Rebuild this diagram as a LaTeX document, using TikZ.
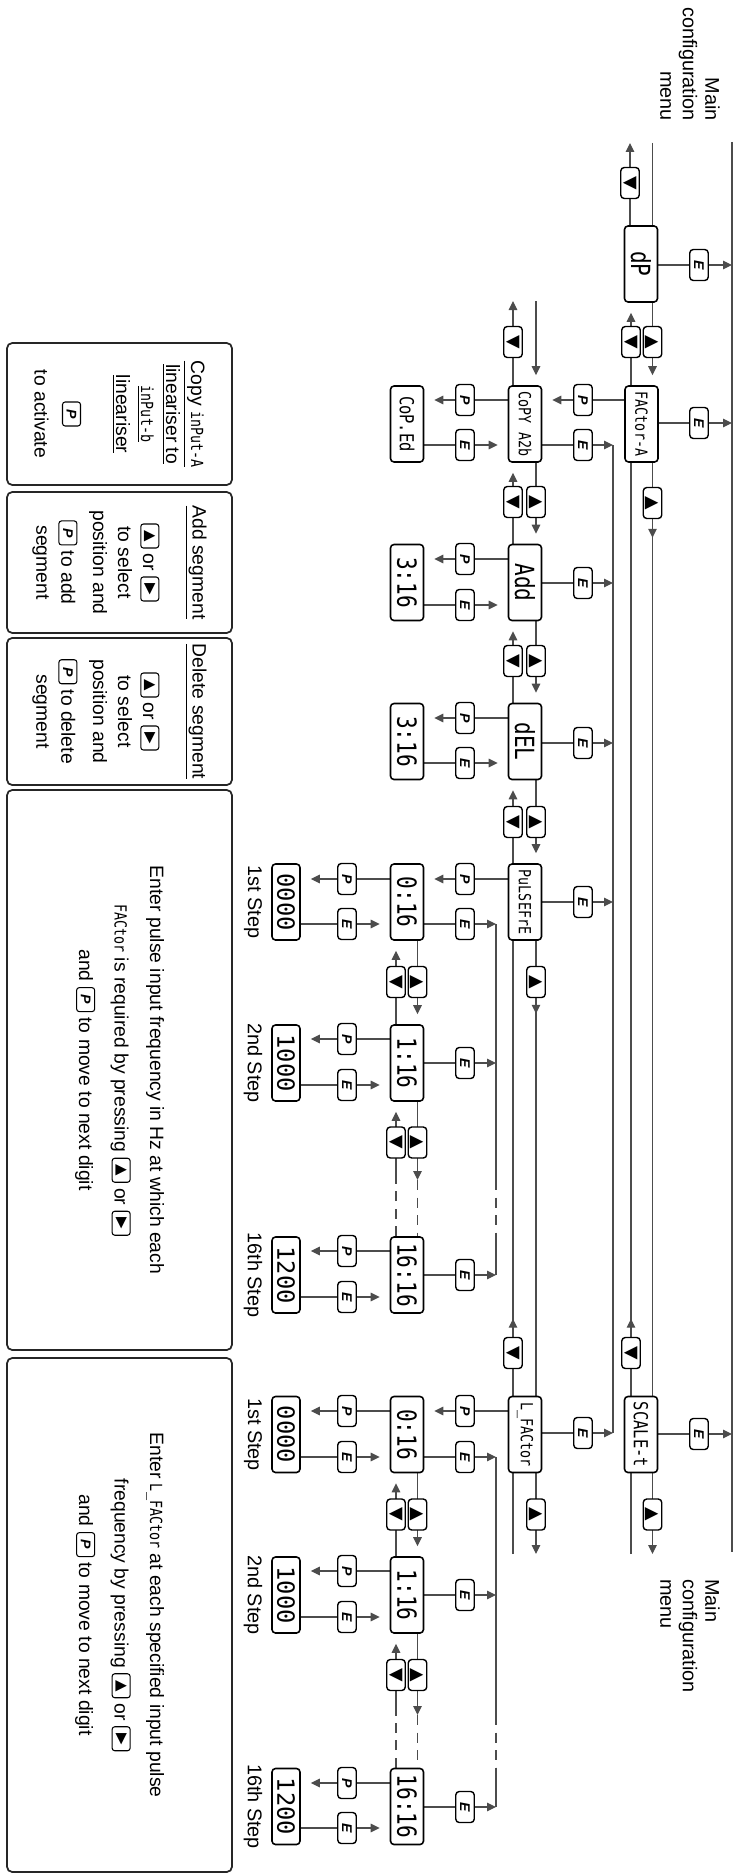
\documentclass[tikz,border=0pt]{standalone}
\usepackage{fontspec}
\setmainfont{Liberation Sans}
\newfontfamily\lcd[FakeStretch=0.8]{DejaVu Sans Mono}
\newfontfamily\lcdwide{DejaVu Sans Mono}
\newfontfamily\dejavu{DejaVu Sans}
\usetikzlibrary{arrows.meta,decorations.markings}
\pgfdeclarelayer{bg}
\pgfsetlayers{bg,main}

\newcommand{\lcdtxt}[1]{{\lcd\fontsize{9.5}{10}\selectfont #1}}
\newcommand{\keyP}{{\fontsize{8}{8}\selectfont\bfseries\itshape P}}
\newcommand{\keyUp}{{\dejavu\fontsize{8.5}{8.5}\selectfont ▲}}
\newcommand{\keyRt}{{\dejavu\fontsize{8.5}{8.5}\selectfont ▶}}
\newcommand{\inkey}[1]{\tikz[baseline=-0.65ex]\node[draw, rounded corners=1.5pt, line width=0.6pt, minimum width=4.8mm, minimum height=3.6mm, inner sep=0pt] (ik) {#1};}

\begin{document}
\begin{tikzpicture}[
    x=0.2mm, y=-0.2mm,
    menu/.style={draw, fill=white, rotate=-90, rounded corners=2pt, line width=0.9pt,
        minimum width=15.2mm, minimum height=6.6mm, inner sep=0pt},
    menus/.style={menu, font=\lcd\fontsize{9.5}{10}\selectfont},
    menum/.style={menu, font=\lcd\fontsize{11}{12}\selectfont},
    menul/.style={menu, font=\lcd\fontsize{15}{16}\selectfont},
    valbox/.style={menu, minimum height=5.6mm, font=\lcdwide\fontsize{13.5}{14}\selectfont},
    key/.style={draw, fill=white, rotate=-90, rounded corners=2pt, line width=0.8pt,
        minimum width=6.2mm, minimum height=3.7mm, inner sep=0pt},
    keyE/.style={key, font=\fontsize{8}{8}\selectfont\bfseries\itshape},
    keyT/.style={key, font=\dejavu\fontsize{10}{10}\selectfont},
    conn/.style={line width=0.7pt, black!70},
    arr/.style={conn, -{Triangle[length=1.8mm, width=1.7mm]}},
    arrb/.style={arr, shorten >=2mm},
    tipat/.style={conn, postaction={decorate}, decoration={markings,
        mark=at position #1 with {\arrow{Triangle[length=1.8mm, width=1.7mm]}}}},
    dashline/.style={conn, dash pattern=on 2mm off 1.5mm},
    note/.style={draw=black!85, rotate=-90, rounded corners=3pt, line width=1pt,
        minimum height=45mm, align=center, font=\fontsize{11}{14.2}\selectfont},
    lbl/.style={rotate=-90, font=\fontsize{11.3}{12.8}\selectfont}
]
\useasboundingbox (0,0) rectangle (736,1876);

% ends of the menu lines
\coordinate (busT) at (732,142);
\coordinate (busB) at (732,1552);
\coordinate (c2s) at (613,445);
\coordinate (c2e) at (613,1433);
\coordinate (c3s) at (496,924);
\coordinate (c3e) at (496,1275);
\coordinate (c4s) at (496,1457);
\coordinate (c4e) at (496,1807);
\coordinate (w1L) at (0,143);
\coordinate (w2L) at (0,301);
\coordinate (wR) at (0,1554);
\coordinate (g1) at (0,1180);
\coordinate (g2) at (0,1715);
\coordinate (stepx) at (253,0);

% first level
\node[menul] (dp) at (641,264) {dP};
\node[menus] (fa) at (641.5,424) {FACtor-A};
\node[menum] (sc) at (641,1434.5) {SCALE-t};

% second level
\node[menus] (cp) at (525,424) {CoPY A2b};
\node[menul] (add) at (525,582.5) {Add};
\node[menul] (del) at (525,741.5) {dEL};
\node[menus] (pf) at (525,902) {PuLSEFrE};
\node[menus] (lf) at (525,1434.5) {L\_FACtor};

% third level
\node[menum] (ce) at (407,424) {CoP.Ed};
\node[menul] (a3) at (407,582.5) {3:16};
\node[menul] (d3) at (407,741.5) {3:16};
\node[menul] (p0) at (407,902) {0:16};
\node[menul] (p1) at (407,1063) {1:16};
\node[menul] (p16) at (407,1275) {16:16};
\node[menul] (l0) at (407,1434.5) {0:16};
\node[menul] (l1) at (407,1595) {1:16};
\node[menul] (l16) at (407,1806.5) {16:16};

% values
\node[valbox] (pv0) at (286,902) {0000};
\node[valbox] (pv1) at (286,1063) {1000};
\node[valbox] (pv16) at (286,1275) {1200};
\node[valbox] (lv0) at (286,1434.5) {0000};
\node[valbox] (lv1) at (286,1595) {1000};
\node[valbox] (lv16) at (286,1806.5) {1200};
\foreach \vb/\st in {pv0/1st, pv1/2nd, pv16/16th, lv0/1st, lv1/2nd, lv16/16th}
    \node[lbl] (s\vb) at (stepx |- \vb) {\st\ Step};

% keys
\foreach \n/\x/\y in {kdpE/699/265, kfaE/699/423, kscE/699/1434,
        kcpE/583/445, kaddE/583/583, kdelE/583/743, kpfE/583/902, klfE/583/1433,
        kceE/465/445, ka3E/465/605, kd3E/465/763, kp0E/465/924, kp1E/465/1063,
        kp16E/465/1275, kl0E/465/1457, kl1E/465/1595, kl16E/465/1807,
        kpv0E/347/924, kpv1E/347/1085, kpv16E/347/1297,
        klv0E/347/1457, klv1E/347/1617, klv16E/347/1828}
    \node[keyE] (\n) at (\x,\y) {E};
\foreach \n/\x/\y in {kfaP/583/400, kcpP/465/400, kaddP/465/559, kdelP/465/718,
        kpfP/465/879, klfP/465/1411, kp0P/347/879, kp1P/347/1039, kp16P/347/1251,
        kl0P/347/1411, kl1P/347/1571, kl16P/347/1783}
    \node[keyE] (\n) at (\x,\y) {P};
\foreach \n/\x/\y in {kdpdn/630/183, kfadn/631/342, kscdn/631/1353,
        kcpdn/513/342, kadddn/513/502, kdeldn/513/661, kpfdn/513/822, klfdn/513/1353,
        kp1dn/396/982, kp16dn/396/1142.5, kl1dn/396/1514.5, kl16dn/396/1675}
    \node[keyT] (\n) at (\x,\y) {▼};
\foreach \n/\x/\y in {kdpup/652.5/342, kfaup/652.5/503, kscup/652.5/1514.5,
        kcpup/536/502, kaddup/536/661, kdelup/536/822, kpfup/536/982, klfup/536/1514.5,
        kp0up/417.5/982, kp1up/417.5/1142.5, kl0up/417.5/1514.5, kl1up/417.5/1675}
    \node[keyT] (\n) at (\x,\y) {▲};

\begin{pgfonlayer}{bg}
% menu line and return lines
\draw[conn] (busT) -- (busB);
\draw[conn] (c2s) -- (c2e);
\draw[conn] (c3s) -- (c3s |- g1);
\draw[dashline] (c3s |- g1) -- (c3s |- p16.west);
\draw[conn] (c3s |- p16.west) -- (c3e);
\draw[conn] (c4s) -- (c4s |- g2);
\draw[dashline] (c4s |- g2) -- (c4s |- l16.west);
\draw[conn] (c4s |- l16.west) -- (c4e);

% E back up
\foreach \bx/\kk/\tg in {dp/kdpE/busT, fa/kfaE/busT, sc/kscE/busT,
        cp/kcpE/c2s, add/kaddE/c2s, del/kdelE/c2s, pf/kpfE/c2s, lf/klfE/c2s,
        p0/kp0E/c3s, p1/kp1E/c3s, p16/kp16E/c3s, l0/kl0E/c4s, l1/kl1E/c4s, l16/kl16E/c4s}
    \draw[arr] (\bx.north |- \kk) -- (\tg |- \kk);

% P down a level, E back
\foreach \ba/\bb/\kk in {fa/cp/kfaP, cp/ce/kcpP, add/a3/kaddP, del/d3/kdelP,
        pf/p0/kpfP, lf/l0/klfP, p0/pv0/kp0P, p1/pv1/kp1P, p16/pv16/kp16P,
        l0/lv0/kl0P, l1/lv1/kl1P, l16/lv16/kl16P}
    \draw[arrb] (\ba.south |- \kk) -- (\bb.north |- \kk);
\foreach \ba/\bb/\kk in {ce/cp/kceE, a3/add/ka3E, d3/del/kd3E,
        pv0/p0/kpv0E, pv1/p1/kpv1E, pv16/p16/kpv16E,
        lv0/l0/klv0E, lv1/l1/klv1E, lv16/l16/klv16E}
    \draw[arrb] (\ba.north |- \kk) -- (\bb.south |- \kk);

% up / down between neighbours
\foreach \ba/\bb/\kd/\ku in {dp/fa/kfadn/kdpup, cp/add/kadddn/kcpup, add/del/kdeldn/kaddup,
        del/pf/kpfdn/kdelup, p0/p1/kp1dn/kp0up, l0/l1/kl1dn/kl0up} {
    \draw[arrb] (\kd |- \bb.west) -- (\kd |- \ba.east);
    \draw[arrb] (\ku |- \ba.east) -- (\ku |- \bb.west);
}
\draw[tipat=15mm] (kfaup |- fa.east) -- (kfaup |- sc.west);
\draw[tipat=15.4mm] (kscdn |- sc.west) -- (kscdn |- fa.east);
\draw[tipat=14.6mm] (kpfup |- pf.east) -- (kpfup |- lf.west);
\draw[tipat=15.4mm] (klfdn |- lf.west) -- (klfdn |- pf.east);

% wrap round
\draw[arr] (kdpdn |- dp.west) -- (kdpdn |- w1L);
\draw[conn] (kdpup |- w1L) -- (kdpup |- dp.west);
\draw[arr] (kcpdn |- cp.west) -- (kcpdn |- w2L);
\draw[arrb] (kcpup |- w2L) -- (kcpup |- cp.west);
\draw[arr] (kscup |- sc.east) -- (kscup |- wR);
\draw[conn] (kscdn |- wR) -- (kscdn |- sc.east);
\draw[arr] (klfup |- lf.east) -- (klfup |- wR);
\draw[conn] (klfdn |- wR) -- (klfdn |- lf.east);

% steps left out
\foreach \ba/\bb/\kd/\ku/\gp in {p1/p16/kp16dn/kp1up/g1, l1/l16/kl16dn/kl1up/g2} {
    \draw[arrb] (\kd |- \gp) -- (\kd |- \ba.east);
    \draw[dashline] (\kd |- \bb.west) -- (\kd |- \gp);
    \draw[arr] (\ku |- \ba.east) -- (\ku |- \gp);
    \draw[dashline] (\ku |- \gp) -- (\ku |- \bb.west);
}
\end{pgfonlayer}

% labels
\node[lbl, align=right, anchor=east] (mtop) at (690,127) {Main\\configuration\\menu};
\node[lbl, align=left, anchor=west] (mbot) at (690,1573) {Main\\configuration\\menu};

% notes
\node[note, minimum width=28.4mm] (n1) at (119.5,414)
    {\underline{Copy \lcdtxt{inPut-A}}\\ \underline{lineariser to}\\ \underline{\lcdtxt{inPut-b}}\\
     \underline{lineariser}\\[15pt] \inkey{\keyP}\\[3pt] to activate};
\node[note, minimum width=28.2mm] (n2) at (119.5,562.5)
    {\underline{Add segment}\\[14pt] \inkey{\keyUp} or \inkey{\keyRt}\\ to select\\
     position and\\[4pt] \inkey{\keyP} to add\\ segment};
\node[note, minimum width=28.6mm] (n3) at (119.5,711.5)
    {\underline{Delete segment}\\[14pt] \inkey{\keyUp} or \inkey{\keyRt}\\ to select\\
     position and\\[4pt] \inkey{\keyP} to delete\\ segment};
\node[note, minimum width=112mm] (n4) at (119.5,1070)
    {Enter pulse input frequency in Hz at which each\\[6pt]
     \lcdtxt{FACtor} is required by pressing \inkey{\keyUp} or \inkey{\keyRt}\\[6pt]
     and \inkey{\keyP} to move to next digit};
\node[note, minimum width=102.8mm] (n5) at (119.5,1615)
    {Enter \lcdtxt{L\_FACtor} at each specified input pulse\\[6pt]
     frequency by pressing \inkey{\keyUp} or \inkey{\keyRt}\\[6pt]
     and \inkey{\keyP} to move to next digit};
\end{tikzpicture}
\end{document}
